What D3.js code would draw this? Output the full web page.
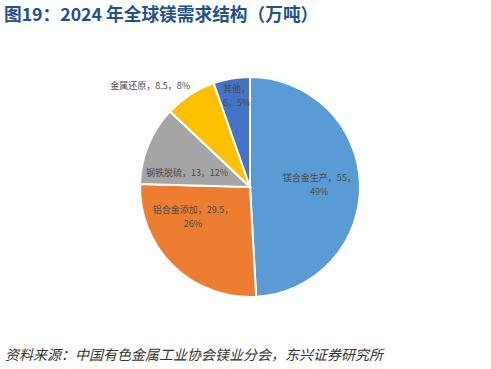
<!DOCTYPE html>
<html>
<head>
<meta charset="utf-8">
<script src="https://cdn.jsdelivr.net/npm/d3@7"></script>
<style>
  body { margin: 0; background: #fff; }
  svg text { font-family: "Noto Sans CJK SC", "Noto Sans", sans-serif; }
</style>
</head>
<body>
<div id="chart"></div>
<script>
// data
var categories = ["镁合金生产", "铝合金添加", "钢铁脱硫", "金属还原", "其他"];
var values = [55, 29.5, 13, 8.5, 6];
var percents = ["49%", "26%", "12%", "8%", "5%"];
var colors = ["#5b9bd5", "#ed7d31", "#a5a5a5", "#ffc000", "#4472c4"];

var svgWidth = 491;
var svgHeight = 369;

var cx = 250, cy = 187, radius = 110;

var svg = d3.select("#chart")
  .append("svg")
  .attr("width", svgWidth)
  .attr("height", svgHeight);

// title
svg.append("text")
  .attr("x", 4)
  .attr("y", 21)
  .attr("font-size", 17.7)
  .attr("font-weight", "bold")
  .attr("fill", "#24518c")
  .text("图19：2024 年全球镁需求结构（万吨）");

var pie = d3.pie().sort(null).value(d => d);
var arcs = pie(values);

var arc = d3.arc().innerRadius(0).outerRadius(radius);

var chartGroup = svg.append("g")
  .attr("transform", `translate(${cx}, ${cy})`);

chartGroup.selectAll("path")
  .data(arcs)
  .enter()
  .append("path")
  .attr("d", arc)
  .attr("fill", (d, i) => colors[i])
  .attr("stroke", "#fff")
  .attr("stroke-width", 2);

// label placement: radius factor + small nudge, lines split like excel wraps
var labelR = [0.62, 0.6, 0.6, 1.3, 0.84];
var nudge = [[1, 0], [-11, -17], [-2, 11], [-22, 19], [2, 0]];
var labelLines = [
  [categories[0] + "，" + values[0] + "，", percents[0]],
  [categories[1] + "，" + values[1] + "，", percents[1]],
  [categories[2] + "，" + values[2] + "，" + percents[2]],
  [categories[3] + "，" + values[3] + "，" + percents[3]],
  [categories[4] + "，", values[4] + "，" + percents[4]]
];

var labels = chartGroup.selectAll(".lbl")
  .data(arcs)
  .enter()
  .append("text")
  .attr("class", "lbl")
  .attr("font-size", 9)
  .attr("fill", "#4a4a4a")
  .attr("text-anchor", "middle")
  .attr("transform", function(d, i) {
    var c = d3.arc().innerRadius(0).outerRadius(radius * labelR[i] * 2).centroid(d);
    var n = labelLines[i].length;
    return `translate(${c[0] + nudge[i][0]}, ${c[1] + nudge[i][1] - (n - 1) * 7 + 3})`;
  });

labels.each(function(d, i) {
  var t = d3.select(this);
  labelLines[i].forEach(function(line, j) {
    t.append("tspan")
      .attr("x", 0)
      .attr("dy", j === 0 ? 0 : 14)
      .text(line);
  });
});

// source
svg.append("text")
  .attr("x", 5)
  .attr("y", 360)
  .attr("font-size", 14)
  .attr("font-style", "italic")
  .attr("fill", "#333")
  .text("资料来源：中国有色金属工业协会镁业分会，东兴证券研究所");
</script>
</body>
</html>
